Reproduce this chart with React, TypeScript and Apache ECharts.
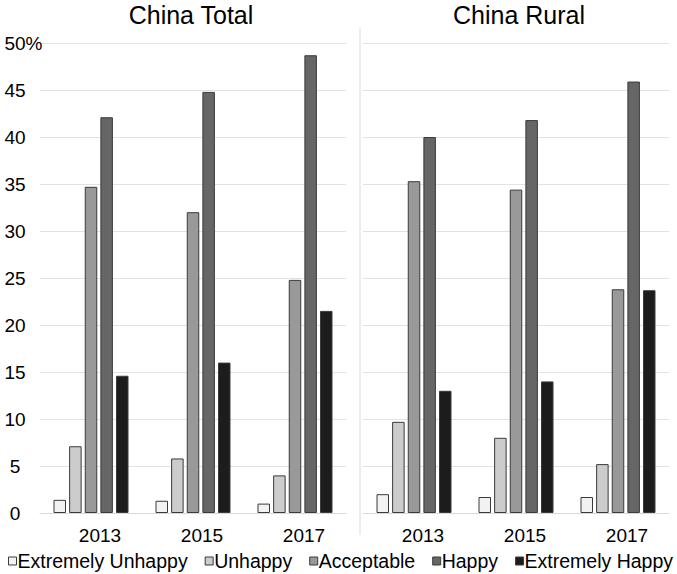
import React, { useEffect, useRef } from "react";
import * as echarts from "echarts";

const years = ["2013", "2015", "2017"];
const levels = ["Extremely Unhappy", "Unhappy", "Acceptable", "Happy", "Extremely Happy"];
const levelColors = ["#f2f2f2", "#cccccc", "#999999", "#666666", "#1c1c1c"];
const panelTitles = ["China Total", "China Rural"];

// values per level, for 2013, 2015, 2017 (%)
const totalExtremelyUnhappy = [1.4, 1.3, 1.0];
const totalUnhappy = [7.1, 5.8, 4.0];
const totalAcceptable = [34.7, 32.0, 24.8];
const totalHappy = [42.1, 44.8, 48.7];
const totalExtremelyHappy = [14.6, 16.0, 21.5];

const ruralExtremelyUnhappy = [2.0, 1.7, 1.7];
const ruralUnhappy = [9.7, 8.0, 5.2];
const ruralAcceptable = [35.3, 34.4, 23.8];
const ruralHappy = [40.0, 41.8, 45.9];
const ruralExtremelyHappy = [13.0, 14.0, 23.7];

const yTicks = [0, 5, 10, 15, 20, 25, 30, 35, 40, 45, 50];

const FONT = "Liberation Sans, Arial, sans-serif";

export default function App() {
  const ref = useRef<HTMLDivElement>(null);
  useEffect(() => {
    if (!ref.current) return;
    const chart = echarts.init(ref.current, null, { renderer: "svg" });
    const totalData = [totalExtremelyUnhappy, totalUnhappy, totalAcceptable, totalHappy, totalExtremelyHappy];
    const ruralData = [ruralExtremelyUnhappy, ruralUnhappy, ruralAcceptable, ruralHappy, ruralExtremelyHappy];
    const mk = (data: number[][], gi: number) =>
      data.map((d, i) => ({
        name: levels[i],
        type: "bar",
        xAxisIndex: gi,
        yAxisIndex: gi,
        data: d,
        barWidth: 12.5,
        barGap: "25%",
        itemStyle: { color: levelColors[i], borderColor: "#3a3a3a", borderWidth: 1 },
      }));
    const yAxisBase = {
      type: "value",
      min: 0,
      max: 50,
      interval: 5,
      axisLine: { show: false },
      axisTick: { show: false },
      splitLine: { lineStyle: { color: "#e2e2e2", width: 1 } },
    };
    const xAxisBase = {
      type: "category",
      data: years,
      axisTick: { show: false },
      axisLine: { lineStyle: { color: "#d9d9d9" } },
      axisLabel: {
        color: "#000",
        fontFamily: FONT,
        fontSize: 19,
        margin: 13,
        padding: [0, 0, 0, 18],
      },
    };
    const titleStyle = { fontSize: 25, fontWeight: "normal", color: "#000", fontFamily: FONT };
    chart.setOption({
      animation: false,
      title: [
        { text: panelTitles[0], left: 191, top: 2, textAlign: "center", padding: 0, textStyle: titleStyle },
        { text: panelTitles[1], left: 519, top: 2, textAlign: "center", padding: 0, textStyle: titleStyle },
      ],
      legend: {
        data: levels,
        left: 8,
        top: 551,
        itemWidth: 8,
        itemHeight: 8,
        itemGap: 17,
        icon: "rect",
        padding: 0,
        itemStyle: { borderColor: "#3a3a3a", borderWidth: 1 },
        textStyle: { fontSize: 19.5, color: "#000", fontFamily: FONT, padding: [0, 0, 0, -4] },
      },
      grid: [
        { left: 40, width: 306, top: 43, height: 470 },
        { left: 363, width: 306, top: 43, height: 470 },
      ],
      xAxis: [
        { ...xAxisBase, gridIndex: 0 },
        { ...xAxisBase, gridIndex: 1 },
      ],
      yAxis: [
        {
          ...yAxisBase,
          gridIndex: 0,
          axisLabel: {
            color: "#000",
            fontFamily: FONT,
            fontSize: 19,
            align: "center",
            margin: 25,
            formatter: (v: number) =>
              v === yTicks[yTicks.length - 1] ? "{n|" + v + "%}" : String(v),
            rich: { n: { fontSize: 19, fontFamily: FONT, color: "#000", padding: [0, 0, 0, 17] } },
          },
        },
        { ...yAxisBase, gridIndex: 1, axisLabel: { show: false } },
      ],
      graphic: [
        {
          type: "line",
          shape: { x1: 360, y1: 28, x2: 360, y2: 535 },
          style: { stroke: "#d9d9d9", lineWidth: 1 },
        },
      ],
      series: [...mk(totalData, 0), ...mk(ruralData, 1)],
    });
    return () => chart.dispose();
  }, []);
  return (
    <div
      ref={ref}
      style={{ width: 677, height: 574, position: "absolute", left: 0, top: 0, background: "#fff" }}
    />
  );
}
